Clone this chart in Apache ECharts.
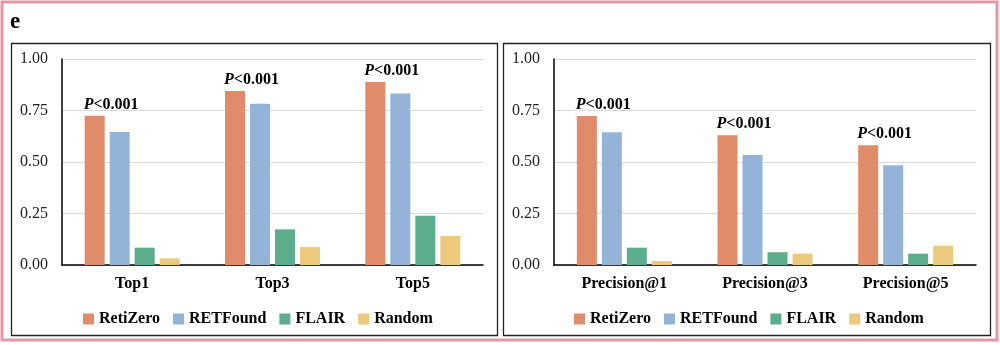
<!DOCTYPE html>
<html>
<head>
<meta charset="utf-8">
<script src="https://cdn.jsdelivr.net/npm/echarts@6/dist/echarts.min.js"></script>
<style>html,body{margin:0;padding:0;background:#fff;}#c{width:1000px;height:345px;}</style>
</head>
<body>
<div id="c"></div>
<script>
const seriesNames = ['RetiZero', 'RETFound', 'FLAIR', 'Random'];
const leftCategories = ['Top1', 'Top3', 'Top5'];
const rightCategories = ['Precision@1', 'Precision@3', 'Precision@5'];
const yTicks = [0, 0.25, 0.5, 0.75, 1.0];
const pLabel = 'P<0.001';

const leftRetiZero = [0.725, 0.845, 0.888];
const leftRETFound = [0.646, 0.783, 0.833];
const leftFLAIR = [0.084, 0.173, 0.239];
const leftRandom = [0.032, 0.087, 0.141];

const rightRetiZero = [0.723, 0.630, 0.581];
const rightRETFound = [0.644, 0.534, 0.484];
const rightFLAIR = [0.084, 0.062, 0.055];
const rightRandom = [0.019, 0.055, 0.094];

const colors = ['#E08B6A', '#93B4D8', '#5BAD8C', '#EDC97E'];
const FONT = '"Liberation Serif", "Times New Roman", serif';

const leftData = [leftRetiZero, leftRETFound, leftFLAIR, leftRandom];
const rightData = [rightRetiZero, rightRETFound, rightFLAIR, rightRandom];

function makeSeries(dataSets, axisIndex) {
  return dataSets.map((d, i) => ({
    name: seriesNames[i],
    type: 'bar',
    xAxisIndex: axisIndex,
    yAxisIndex: axisIndex,
    data: d,
    barWidth: 20,
    barGap: '25%',
    itemStyle: { color: colors[i] },
    label: i === 0 ? {
      show: true,
      position: [-1, -3],
      align: 'left',
      verticalAlign: 'bottom',
      formatter: function () { return '{i|P}{n|' + pLabel.slice(1) + '}'; },
      rich: {
        i: { fontFamily: FONT, fontSize: 16, fontWeight: 'bold', fontStyle: 'italic', color: '#000' },
        n: { fontFamily: FONT, fontSize: 16, fontWeight: 'bold', color: '#000' }
      }
    } : { show: false }
  }));
}

function xAxis(cats, gi) {
  return {
    type: 'category', gridIndex: gi, data: cats,
    axisLine: { lineStyle: { color: '#000', width: 1.5 } },
    axisTick: { show: false },
    axisLabel: { fontFamily: FONT, fontSize: 16, fontWeight: 'bold', color: '#000', margin: 11 }
  };
}
function yAxis(gi) {
  return {
    type: 'value', gridIndex: gi, min: yTicks[0], max: yTicks[yTicks.length - 1], interval: 0.25,
    axisLine: { show: true, lineStyle: { color: '#000', width: 1.5 } },
    axisTick: { show: false },
    splitLine: { lineStyle: { color: '#d9d9d9', width: 1 } },
    axisLabel: { fontFamily: FONT, fontSize: 16, color: '#222', margin: 14, formatter: v => v.toFixed(2) }
  };
}
function legend(left) {
  return {
    data: seriesNames, top: 306, left: left, itemWidth: 11, itemHeight: 11, itemGap: 13,
    icon: 'rect', selectedMode: false,
    textStyle: { fontFamily: FONT, fontSize: 16, fontWeight: 'bold', color: '#000' }
  };
}

const chart = echarts.init(document.getElementById('c'), null, { renderer: 'canvas' });
chart.setOption({
  animation: false,
  backgroundColor: '#fff',
  graphic: [
    { type: 'rect', shape: { x: 2, y: 2, width: 995, height: 338 }, style: { fill: 'none', stroke: '#e597a6', lineWidth: 3 }, silent: true },
    { type: 'rect', shape: { x: 11.5, y: 43.5, width: 486, height: 292 }, style: { fill: 'none', stroke: '#222', lineWidth: 1.3 }, silent: true },
    { type: 'rect', shape: { x: 503.5, y: 43.5, width: 487, height: 292 }, style: { fill: 'none', stroke: '#222', lineWidth: 1.3 }, silent: true },
    { type: 'text', left: 10, top: 11, style: { text: 'e', font: 'bold 23px ' + FONT, fill: '#000' } }
  ],
  legend: [legend(78), legend(569)],
  grid: [
    { left: 62, right: 517, top: 59, bottom: 80 },
    { left: 554, right: 24, top: 59, bottom: 80 }
  ],
  xAxis: [xAxis(leftCategories, 0), xAxis(rightCategories, 1)],
  yAxis: [yAxis(0), yAxis(1)],
  series: makeSeries(leftData, 0).concat(makeSeries(rightData, 1))
});
</script>
</body>
</html>
